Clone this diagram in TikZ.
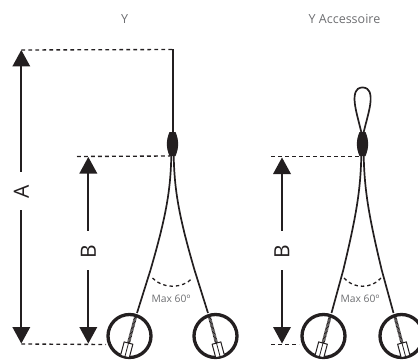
\documentclass[tikz,border=0pt]{standalone}
\usepackage{fontspec}
\setmainfont{Open Sans}
\definecolor{ink}{HTML}{231F20}
\definecolor{lab}{HTML}{6D6E71}
\tikzset{
  dim/.style={draw=ink,line width=1.35pt,dash pattern=on 3.8pt off 3.2pt},
  shaft/.style={draw=ink,line width=1.7pt},
  head/.style={fill=ink,draw=none},
  cable/.style={draw=ink,line width=1.7pt},
  ring/.style={draw=ink,line width=3.3pt},
  title/.style={text=lab,font=\fontsize{12.5}{14}\selectfont,inner sep=0pt},
  maxlab/.style={text=lab,font=\fontsize{10.3}{12}\selectfont,inner sep=0pt},
  letter/.style={text=ink,font=\fontsize{21}{24}\selectfont,inner sep=0pt,rotate=90}
}
\newcommand{\upHead}[2]{\fill[head] (#1,#2) -- (#1-9,#2+16.5) -- (#1+9,#2+16.5) -- cycle;}
\newcommand{\downHead}[2]{\fill[head] (#1,#2) -- (#1-9,#2-16.5) -- (#1+9,#2-16.5) -- cycle;}
\newcommand{\ferrule}[1]{\fill[ink] (#1-3,132) .. controls (#1-6.5,140) and (#1-6.5,148) .. (#1-3,156) -- (#1+3,156) .. controls (#1+6.5,148) and (#1+6.5,140) .. (#1+3,132) -- cycle;}
\newcommand{\fitting}[3]{%
  \begin{scope}[shift={(#1,#2)},rotate=#3]
    \draw[ink,line width=3pt,dash pattern=on .8pt off .5pt] (0,0) -- (0,27);
    \draw[ink,line width=1pt,fill=white] (-4.5,27) rectangle (4.5,41);
    \draw[ink,line width=.8pt] (0,27) -- (0,41);
  \end{scope}}
% #1 centre x, #2 half spread where the cable meets the ring, #3 ring offset, #4 arc half width, #5 fit rotation, #6 label x
\newcommand{\sling}[6]{%
  \ferrule{#1}
  \draw[cable] (#1-1.2,156) .. controls (#1-2,190) and (#1-6,215) .. (#1-#2*0.62,270) -- (#1-#2,313);
  \draw[cable] (#1+1.2,156) .. controls (#1+2,190) and (#1+6,215) .. (#1+#2*0.62,270) -- (#1+#2,313);
  \draw[ink,line width=1.3pt,dash pattern=on 3.4pt off 3pt] (#1-#4,278) .. controls (#1-#4*0.5,289) and (#1+#4*0.5,289) .. (#1+#4,278);
  \node[maxlab] at (#6,299) {Max 60º};
  \draw[ring] (#1-#3,336) circle (21.5);
  \draw[ring] (#1+#3,336) circle (21.5);
  \fitting{#1-#2-1.5}{317}{-#5}
  \fitting{#1+#2+1.5}{317}{#5}
}
\begin{document}
\begin{tikzpicture}[x=1pt,y=-1pt]
\useasboundingbox (0,0) rectangle (418,361);
\begin{scope}
\clip (0,0) rectangle (418,361);
% titles
\node[title] (ty) at (124.5,19) {Y};
\node[title] (ta) at (344.5,19) {Y Accessoire};
% left sling
\sling{172.5}{35.5}{43}{20}{15}{171}
\coordinate (ltop) at (172.8,49.5);
\coordinate (lfer) at (172.8,133);
\draw[shaft] (ltop) -- (lfer);
% right sling
\sling{362.5}{31}{39}{18.5}{15}{360}
\draw[cable] (361.5,133) .. controls (358,118) and (354,106) .. (354.6,97) .. controls (355.2,88) and (360,87.5) .. (362.5,87.5) .. controls (365,87.5) and (370,88) .. (370.6,97) .. controls (371.2,106) and (367,118) .. (363.5,133);
% dimension A
\coordinate (atop) at (21.3,50);
\coordinate (abot) at (21.3,344);
\draw[dim] (atop) -- (ltop);
\upHead{21.3}{50}
\downHead{21.3}{343.5}
\node[letter] (la) at (21.3,191.5) {A};
\coordinate (la1) at (21.3,172);
\coordinate (la2) at (21.3,210);
\draw[shaft] (21.3,62) -- (la1);
\draw[shaft] (la2) -- (21.3,330);
% dimension B left
\draw[dim] (77,156.5) -- (170,156);
\upHead{88.3}{157}
\downHead{88.3}{343.5}
\node[letter] (lb) at (88.3,252) {B};
\coordinate (lb1) at (88.3,231);
\coordinate (lb2) at (88.3,270);
\draw[shaft] (88.3,170) -- (lb1);
\draw[shaft] (lb2) -- (88.3,330);
\draw[dim] (abot) -- (106,344.5);
% dimension B right
\draw[dim] (271,156.5) -- (360,156.5);
\upHead{282}{157.5}
\downHead{282}{343.5}
\node[letter] (rb) at (282,252) {B};
\coordinate (rb1) at (282,231);
\coordinate (rb2) at (282,270);
\draw[shaft] (282,170) -- (rb1);
\draw[shaft] (rb2) -- (282,330);
\draw[dim] (271,344.5) -- (299,344.5);
\end{scope}
\end{tikzpicture}
\end{document}
